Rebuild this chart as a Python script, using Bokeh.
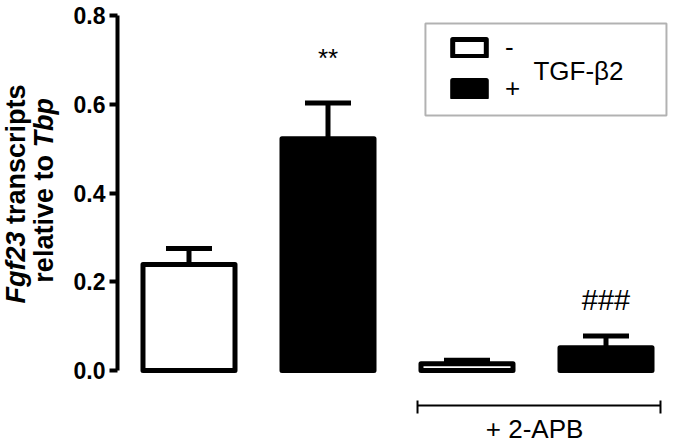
from bokeh.plotting import figure
from bokeh.models import (Range1d, FixedTicker, PrintfTickFormatter, Label, Legend,
                          LegendItem, Whisker, TeeHead, ColumnDataSource, BoxAnnotation)
from bokeh.embed import file_html
from bokeh.resources import INLINE
from math import pi

# ---- data ----
groups = ["TGF-β2 −", "TGF-β2 +", "TGF-β2 − / 2-APB", "TGF-β2 + / 2-APB"]
positions = [1, 2, 3, 4]
means = [0.239, 0.522, 0.015, 0.051]
sems = [0.036, 0.081, 0.008, 0.027]
treated = [False, True, False, True]
y_ticks = [0.0, 0.2, 0.4, 0.6, 0.8]

FONT = "Liberation Sans"

p = figure(width=675, height=445, output_backend="svg", toolbar_location=None,
           x_axis_location=None, title=None,
           x_range=Range1d(-0.3561, 4.5), y_range=Range1d(-0.16901, 0.8338),
           min_border_left=0, min_border_right=0, min_border_top=0, min_border_bottom=0)
p.outline_line_color = None
p.grid.visible = False
p.background_fill_color = "white"

# y axis, drawn at a fixed position inside the canvas
ya = p.yaxis[0]
ya.fixed_location = 0.4856
ya.bounds = (0, 0.8)
ya.ticker = FixedTicker(ticks=y_ticks)
ya.formatter = PrintfTickFormatter(format="%.1f")
ya.axis_line_width = 4
ya.axis_line_color = "black"
ya.major_tick_line_width = 4
ya.major_tick_line_color = "black"
ya.major_tick_out = 8
ya.major_tick_in = 0
ya.minor_tick_line_color = None
ya.major_label_text_font = FONT
ya.major_label_text_font_style = "bold"
ya.major_label_text_font_size = "23px"
ya.major_label_text_color = "black"
ya.major_label_standoff = 4

# bars
xm = [x for x, t in zip(positions, treated) if not t]
ym = [m for m, t in zip(means, treated) if not t]
xp = [x for x, t in zip(positions, treated) if t]
yp = [m for m, t in zip(means, treated) if t]

BW = 0.662
r_minus = p.vbar(x=xm, top=ym, bottom=0, width=BW, fill_color="white",
                 line_color="black", line_width=5, line_join="round")
r_plus = p.vbar(x=xp, top=yp, bottom=0, width=BW, fill_color="black",
                line_color="black", line_width=5, line_join="round")

# error bars (upper only)
src = ColumnDataSource(dict(x=positions, lower=means,
                            upper=[m + s for m, s in zip(means, sems)]))
w = Whisker(source=src, base="x", lower="lower", upper="upper", dimension="height",
            line_width=5, line_color="black",
            upper_head=TeeHead(size=46, line_width=5, line_color="black"),
            lower_head=None)
p.add_layout(w)

# significance marks
p.add_layout(Label(x=2, y=0.705, text="**", text_align="center", text_baseline="alphabetic",
                   text_font=FONT, text_font_size="26px", text_color="black"))
p.add_layout(Label(x=4, y=0.160, text="###", text_align="center", text_baseline="alphabetic",
                   text_font=FONT, text_font_size="29px", text_color="black"))

# legend
box = BoxAnnotation(left=2.701, right=4.435, top=0.782, bottom=0.5746,
                    fill_alpha=0, line_color="black", line_width=2)
p.add_layout(box)
leg = Legend(items=[LegendItem(label="-", renderers=[r_minus]),
                    LegendItem(label="+", renderers=[r_plus])],
             location=(448, 341), padding=0, margin=0, spacing=10,
             glyph_width=42, glyph_height=21, label_height=21, label_standoff=15,
             border_line_color=None, background_fill_alpha=0,
             label_text_font=FONT, label_text_font_size="26px", label_text_color="black")
p.add_layout(leg)
p.add_layout(Label(x=3.478, y=0.674, text="TGF-β2", text_baseline="alphabetic",
                   text_font=FONT, text_font_size="26px", text_color="black"))

# 2-APB bracket
p.segment(x0=[2.644, 2.644, 4.392], y0=[-0.079, -0.0676, -0.0676],
          x1=[4.392, 2.644, 4.392], y1=[-0.079, -0.0969, -0.0969],
          line_color="black", line_width=2)
p.add_layout(Label(x=3.486, y=-0.1329, text="+ 2-APB", text_align="center",
                   text_baseline="alphabetic", text_font=FONT, text_font_size="26px",
                   text_color="black"))

# y axis title (two lines, partly italic)
tx1 = -0.241
tx2 = -0.0396
for txt, x, y, style in [
    ("Fgf23", tx1, 0.151, "bold italic"),
    ("transcripts", tx1, 0.330, "bold"),
    ("relative to", tx2, 0.198, "bold"),
    ("Tbp", tx2, 0.5025, "bold italic"),
]:
    p.add_layout(Label(x=x, y=y, text=txt, angle=pi / 2, text_align="left",
                       text_baseline="alphabetic", text_font=FONT,
                       text_font_style=style, text_font_size="27px", text_color="black"))

open("out.html", "w").write(file_html(p, INLINE))
